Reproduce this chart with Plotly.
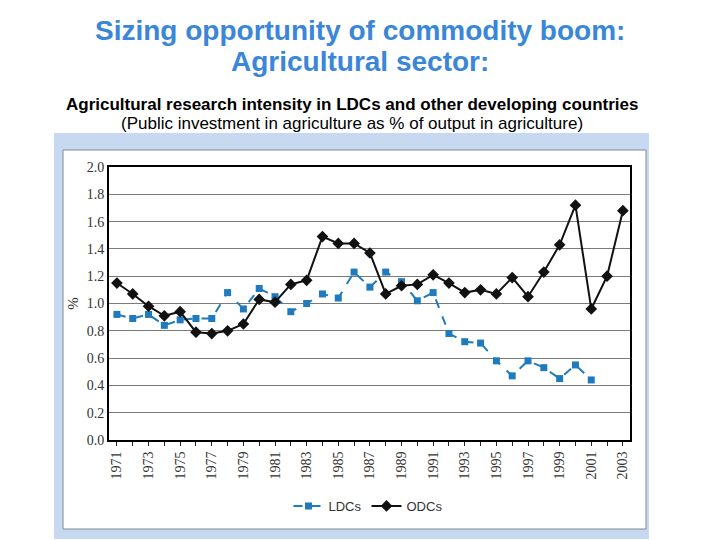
import plotly.graph_objects as go

years = list(range(1971, 2004))
ldc_years = list(range(1971, 2002))
ldc_values = [0.92, 0.89, 0.92, 0.84, 0.88, 0.89, 0.89, 1.08, 0.96, 1.11,
              1.05, 0.94, 1.00, 1.07, 1.04, 1.23, 1.12, 1.23, 1.16, 1.02,
              1.08, 0.78, 0.72, 0.71, 0.58, 0.47, 0.58, 0.53, 0.45, 0.55,
              0.44]
odc_values = [1.15, 1.07, 0.98, 0.91, 0.94, 0.79, 0.78, 0.80, 0.85, 1.03,
              1.01, 1.14, 1.17, 1.49, 1.44, 1.44, 1.37, 1.07, 1.13, 1.14,
              1.21, 1.15, 1.08, 1.10, 1.07, 1.19, 1.05, 1.23, 1.43, 1.72,
              0.96, 1.20, 1.68]

W, H = 720, 540
OFF = 8  # page body margin offset


def px(x):
    return (x - OFF) / W


def py(y):
    return 1 - (y - OFF) / H


fig = go.Figure()
fig.add_trace(go.Scatter(
    x=ldc_years, y=ldc_values, name="LDCs", mode="lines+markers",
    line=dict(color="#1f7bbd", width=2, dash="dash"),
    marker=dict(symbol="square", size=7, color="#1f7bbd"),
))
fig.add_trace(go.Scatter(
    x=years, y=odc_values, name="ODCs", mode="lines+markers",
    line=dict(color="#111111", width=2),
    marker=dict(symbol="diamond", size=9, color="#111111"),
))

serif = "Liberation Serif, Times New Roman, serif"
sans = "Liberation Sans, Arial, sans-serif"

fig.update_layout(
    width=W, height=H,
    margin=dict(l=0, r=0, t=0, b=0, pad=0, autoexpand=False),
    paper_bgcolor="white",
    plot_bgcolor="white",
    showlegend=True,
    legend=dict(orientation="h", x=px(368), xanchor="center", y=py(506), yanchor="middle",
                font=dict(family=sans, size=13, color="#333333"),
                bgcolor="rgba(0,0,0,0)"),
    xaxis=dict(
        domain=[px(109), px(630)],
        range=[1970.5, 2003.45],
        automargin=False,
        tickmode="linear", tick0=1971, dtick=2,
        tickangle=-90,
        ticks="outside", ticklen=4, tickcolor="#222",
        minor=dict(ticks="outside", dtick=1, tick0=1971, ticklen=4, tickcolor="#222"),
        tickfont=dict(family=serif, size=14, color="#333333"),
        showgrid=False, zeroline=False,
        showline=True, linecolor="black", linewidth=2, mirror=True,
    ),
    yaxis=dict(
        domain=[py(440), py(167)],
        range=[0, 2.0],
        automargin=False,
        tickmode="linear", tick0=0, dtick=0.2, tickformat=".1f",
        ticks="", tickfont=dict(family=serif, size=14, color="#333333"),
        showgrid=True, gridcolor="#7a7a7a", gridwidth=1,
        zeroline=False,
        showline=True, linecolor="black", linewidth=2, mirror=True,
        title=dict(text="%", font=dict(family=serif, size=15, color="#333333"), standoff=4),
    ),
    shapes=[
        dict(type="rect", xref="paper", yref="paper", layer="below",
             x0=px(54), x1=px(649), y0=py(539), y1=py(133),
             fillcolor="#c6d9f1", line=dict(width=0)),
        dict(type="rect", xref="paper", yref="paper", layer="below",
             x0=px(63), x1=px(646), y0=py(529), y1=py(150),
             fillcolor="white", line=dict(color="#7f8a96", width=1)),
    ],
    annotations=[
        dict(text="<b>Sizing opportunity of commodity boom:</b>", x=px(360), y=py(30),
             xref="paper", yref="paper", showarrow=False, xanchor="center", yanchor="middle",
             font=dict(family=sans, size=28, color="#3a86d8")),
        dict(text="<b>Agricultural sector:</b>", x=px(360), y=py(62),
             xref="paper", yref="paper", showarrow=False, xanchor="center", yanchor="middle",
             font=dict(family=sans, size=28, color="#3a86d8")),
        dict(text="<b>Agricultural research intensity in LDCs and other developing countries</b>",
             x=px(352), y=py(104), xref="paper", yref="paper", showarrow=False,
             xanchor="center", yanchor="middle",
             font=dict(family=sans, size=17, color="black")),
        dict(text="(Public investment in agriculture as % of output in agriculture)",
             x=px(352), y=py(124), xref="paper", yref="paper", showarrow=False,
             xanchor="center", yanchor="middle",
             font=dict(family=sans, size=17, color="black")),
    ],
)

fig.write_html("out.html")
